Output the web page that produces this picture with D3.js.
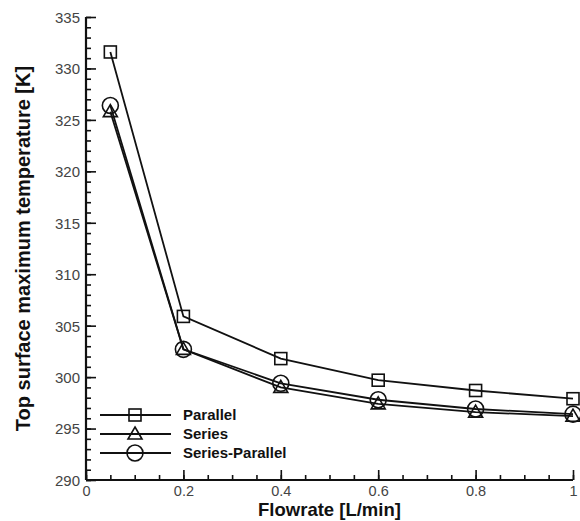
<!DOCTYPE html>
<html>
<head>
<meta charset="utf-8">
<script src="https://cdn.jsdelivr.net/npm/d3@7"></script>
<style>
  body { margin: 0; background: #fff; }
  svg { display: block; font-family: "Liberation Sans", Arial, sans-serif; }
</style>
</head>
<body>
<svg id="chart" width="580" height="521"></svg>
<script>
const flowrates = [0.05, 0.2, 0.4, 0.6, 0.8, 1.0];
const parallel = [331.6, 305.9, 301.8, 299.7, 298.7, 297.9];
const series = [325.8, 302.7, 299.0, 297.4, 296.6, 296.2];
const seriesParallel = [326.4, 302.7, 299.4, 297.8, 296.9, 296.4];

const xTicks = [0, 0.2, 0.4, 0.6, 0.8, 1];
const yTicks = [290, 295, 300, 305, 310, 315, 320, 325, 330, 335];

const seriesList = [
    {name: "Parallel", values: parallel, symbol: "square"},
    {name: "Series", values: series, symbol: "triangle"},
    {name: "Series-Parallel", values: seriesParallel, symbol: "circle"},
];

const svg = d3.select("#chart");
const marginLeft = 86, marginRight = 7, marginTop = 17, marginBottom = 41;
const width = 580, height = 521;

const x = d3.scaleLinear().domain([0, 1]).range([marginLeft, width - marginRight]);
const y = d3.scaleLinear().domain([290, 335]).range([height - marginBottom, marginTop]);

// axes, ticks pointing inward
const xAxis = svg.append("g")
    .attr("transform", `translate(0,${y(290)})`);
xAxis.append("g")
    .call(d3.axisTop(x).tickValues(d3.range(0, 1.0001, 0.05)).tickSize(5).tickFormat(""))
    .call(g => g.select(".domain").remove());
xAxis.append("g")
    .call(d3.axisTop(x).tickValues(xTicks).tickSize(10).tickFormat(d3.format("")))
    .call(g => g.selectAll("text").attr("dy", null).attr("y", 16))
    .call(g => g.select(".domain").remove());

const yAxis = svg.append("g")
    .attr("transform", `translate(${x(0)},0)`);
yAxis.append("g")
    .call(d3.axisRight(y).tickValues(d3.range(290, 335.5, 1)).tickSize(5).tickFormat(""))
    .call(g => g.select(".domain").remove());
yAxis.append("g")
    .call(d3.axisRight(y).tickValues(yTicks).tickSize(10))
    .call(g => g.selectAll("text").attr("x", -6).attr("text-anchor", "end").attr("dy", "0.36em"))
    .call(g => g.select(".domain").remove());

svg.selectAll(".tick line").attr("stroke", "#111").attr("stroke-width", 1.6);
svg.selectAll(".tick text")
    .attr("fill", "#444")
    .style("font-size", "15px");
xAxis.selectAll(".tick text").style("font-size", "14.5px");

// axis lines
svg.append("line")
    .attr("x1", x(0)).attr("x2", x(0)).attr("y1", y(335)).attr("y2", y(290))
    .attr("stroke", "#111").attr("stroke-width", 2.2);
svg.append("line")
    .attr("x1", x(0)).attr("x2", x(1)).attr("y1", y(290)).attr("y2", y(290))
    .attr("stroke", "#111").attr("stroke-width", 2.2);

// axis titles
svg.append("text")
    .attr("x", (x(0) + x(1)) / 2)
    .attr("y", 516)
    .attr("text-anchor", "middle")
    .style("font-size", "18.5px")
    .style("font-weight", "bold")
    .attr("fill", "#111")
    .text("Flowrate [L/min]");

svg.append("text")
    .attr("transform", `translate(30,${(y(290) + y(335)) / 2}) rotate(-90)`)
    .attr("text-anchor", "middle")
    .style("font-size", "20px")
    .style("font-weight", "bold")
    .attr("fill", "#111")
    .text("Top surface maximum temperature [K]");

function drawMarker(g, symbol, cx, cy) {
    if (symbol === "square") {
        g.append("rect")
            .attr("x", cx - 6).attr("y", cy - 6).attr("width", 12).attr("height", 12)
            .attr("fill", "none").attr("stroke", "#111").attr("stroke-width", 1.6);
    } else if (symbol === "triangle") {
        g.append("path")
            .attr("d", `M${cx},${cy - 7}L${cx + 7},${cy + 5}L${cx - 7},${cy + 5}Z`)
            .attr("fill", "none").attr("stroke", "#111").attr("stroke-width", 1.6);
    } else {
        g.append("circle")
            .attr("cx", cx).attr("cy", cy).attr("r", 8)
            .attr("fill", "none").attr("stroke", "#111").attr("stroke-width", 1.6);
    }
}

const line = d3.line().x(d => x(d[0])).y(d => y(d[1]));

const plot = svg.append("g");
seriesList.forEach(s => {
    const pts = flowrates.map((f, i) => [f, s.values[i]]);
    plot.append("path")
        .datum(pts)
        .attr("d", line)
        .attr("fill", "none")
        .attr("stroke", "#111")
        .attr("stroke-width", 1.8);
    const mg = plot.append("g");
    pts.forEach(p => drawMarker(mg, s.symbol, x(p[0]), y(p[1])));
});

// legend
const legend = svg.append("g");
seriesList.forEach((s, i) => {
    const ly = 415 + i * 19;
    const g = legend.append("g");
    g.append("line")
        .attr("x1", 100).attr("x2", 171).attr("y1", ly).attr("y2", ly)
        .attr("stroke", "#111").attr("stroke-width", 1.8);
    drawMarker(g, s.symbol, 135, ly);
    g.append("text")
        .attr("x", 183).attr("y", ly).attr("dy", "0.36em")
        .style("font-size", "15px").style("font-weight", "bold")
        .attr("fill", "#111")
        .text(s.name);
});
</script>
</body>
</html>
